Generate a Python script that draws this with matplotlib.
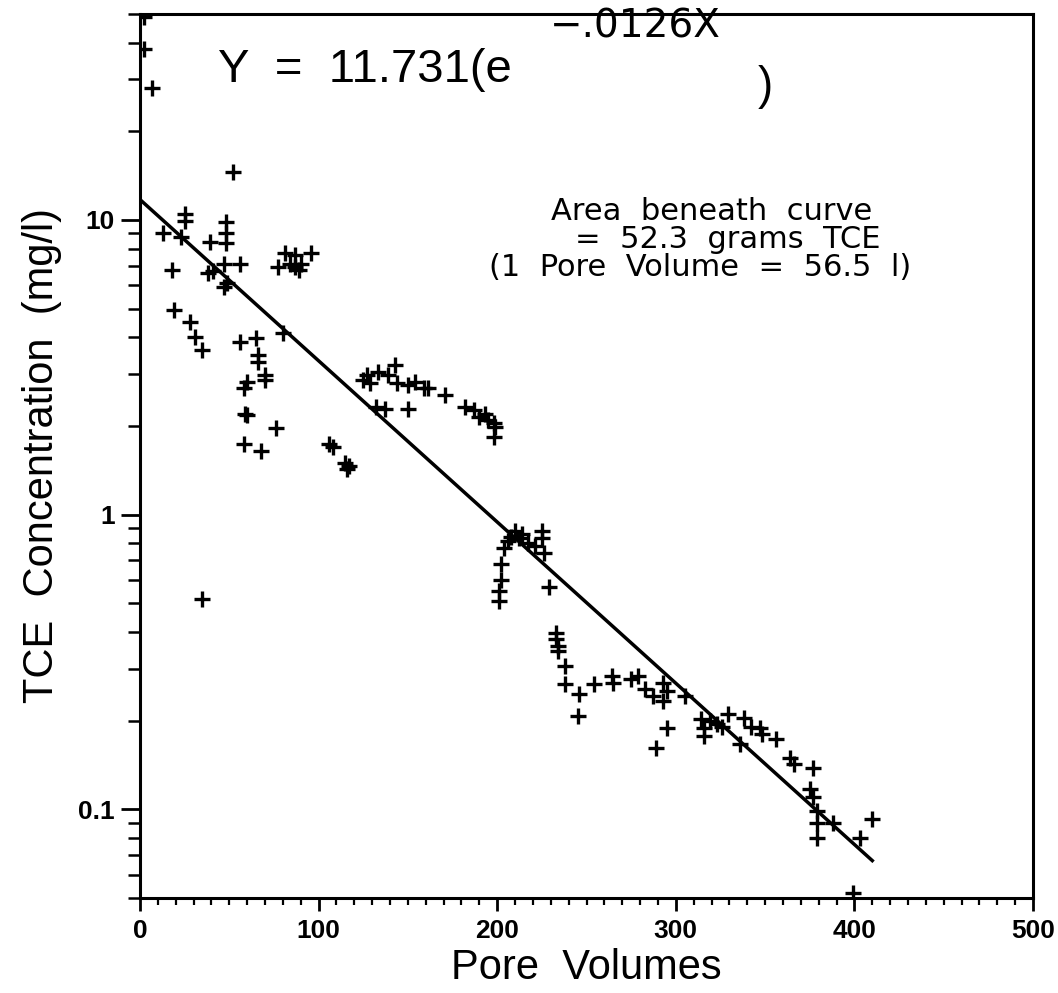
import matplotlib
matplotlib.use('Agg')
import matplotlib.pyplot as plt
import numpy as np
from matplotlib.ticker import FixedLocator, NullFormatter, FixedFormatter

# pore volumes / TCE concentration (mg/l)
pore_vol = [
    2, 2, 7, 52, 25, 25, 13, 23, 39, 48, 48, 48,
    47, 56, 18, 38, 41, 47, 49, 19, 28, 31, 35,
    77, 81, 87, 89, 90, 96, 84, 87,
    56, 65, 66, 66, 70, 70, 60, 58, 60, 59, 76, 58, 68, 80,
    106, 108, 115, 116, 117, 35,
    125, 127, 129, 133, 139, 143, 144, 150, 154, 159, 161, 171,
    182, 187, 190, 193, 195, 198, 198, 199, 132, 137, 150,
    210, 206, 214, 204, 202, 202, 201, 201, 225, 225, 226, 221,
    229, 212, 217, 208,
    233, 233, 234, 234, 238, 238, 246, 254, 245, 264, 265, 275,
    279, 283, 287, 293, 295, 293, 305, 295, 289, 314, 316, 316,
    323, 329, 338, 336, 347, 348, 356, 364, 366, 377, 375, 377,
    379, 379, 379, 388, 403, 410, 399, 319, 326, 342,
]
tce_conc = [
    48.7, 37.9, 28.1, 14.5, 10.5, 9.9, 9.0, 8.75, 8.4, 9.85, 9.0, 8.35,
    7.1, 7.1, 6.75, 6.6, 6.7, 5.9, 6.1, 4.94, 4.5, 4.0, 3.61,
    6.9, 7.7, 7.6, 6.75, 7.1, 7.7, 7.1, 6.9,
    3.84, 3.97, 3.47, 3.29, 2.97, 2.86, 2.81, 2.68, 2.17, 2.2, 1.96, 1.74, 1.64, 4.12,
    1.74, 1.69, 1.50, 1.43, 1.46, 0.518,
    2.86, 2.97, 2.8, 3.04, 2.97, 3.21, 2.79, 2.75, 2.81, 2.70, 2.68, 2.54,
    2.31, 2.26, 2.14, 2.2, 2.09, 2.04, 1.83, 1.98, 2.31, 2.29, 2.29,
    0.88, 0.815, 0.86, 0.77, 0.68, 0.60, 0.55, 0.51, 0.88, 0.835, 0.74, 0.78,
    0.57, 0.83, 0.80, 0.84,
    0.397, 0.378, 0.358, 0.345, 0.306, 0.266, 0.246, 0.266, 0.207, 0.284, 0.268, 0.277,
    0.284, 0.256, 0.242, 0.268, 0.252, 0.233, 0.242, 0.188, 0.161, 0.202, 0.188, 0.177,
    0.195, 0.210, 0.204, 0.166, 0.188, 0.18, 0.173, 0.149, 0.142, 0.138, 0.117, 0.11,
    0.0987, 0.090, 0.080, 0.090, 0.080, 0.093, 0.052, 0.20, 0.19, 0.19,
]

# regression shown on the chart: Y = 11.731 e^(-.0126X)
fit_a = 11.731
fit_k = -0.0126
fit_x = np.array([0, 410])

x_major = [0, 100, 200, 300, 400, 500]
y_major = [0.1, 1, 10]
y_major_labels = ['0.1', '1', '10']

FONT = 'Liberation Sans'
WIDE = 'DejaVu Sans'


def main():
    fig = plt.figure(figsize=(10.58, 9.93), dpi=100)
    ax = fig.add_axes([0.1323, 0.0957, 0.8441, 0.8902])

    ax.plot(pore_vol, tce_conc, linestyle='none', marker='+',
            markersize=11, markeredgewidth=2.4, color='black')
    ax.plot(fit_x, fit_a * np.exp(fit_k * fit_x), color='black', lw=2.5)

    ax.set_yscale('log')
    ax.set_xlim(0, 500)
    ax.set_ylim(0.05, 50)

    ax.xaxis.set_major_locator(FixedLocator(x_major))
    ax.xaxis.set_minor_locator(FixedLocator(np.arange(0, 501, 10)))
    ax.yaxis.set_major_locator(FixedLocator(y_major))
    ax.yaxis.set_major_formatter(FixedFormatter(y_major_labels))
    minors = [m * d for d in (0.01, 0.1, 1, 10) for m in range(2, 10)]
    ax.yaxis.set_minor_locator(FixedLocator(minors))
    ax.yaxis.set_minor_formatter(NullFormatter())

    ax.tick_params(axis='x', which='major', direction='out', length=9,
                   width=2, pad=6, labelsize=19)
    ax.tick_params(axis='x', which='minor', direction='out', length=5, width=1.6)
    ax.tick_params(axis='y', which='major', direction='out', length=14,
                   width=2, pad=4, labelsize=19)
    ax.tick_params(axis='y', which='minor', direction='out', length=9, width=1.8)
    for lab in ax.get_xticklabels() + ax.get_yticklabels():
        lab.set_fontweight('bold')
        lab.set_family(FONT)

    for s in ax.spines.values():
        s.set_linewidth(2.2)

    ax.set_xlabel('Pore  Volumes', fontsize=30, family=FONT, labelpad=4)
    ax.set_ylabel('TCE  Concentration  (mg/l)', fontsize=30, family=FONT,
                  labelpad=12)

    # equation, drawn in pieces like the original
    fig.text(218 / 1058, 1 - 70 / 993, 'Y  =  11.731(e', fontsize=34,
             family=FONT, ha='left', va='center')
    fig.text(635 / 1058, 1 - 26 / 993, '\u2212.0126X', fontsize=28,
             family=WIDE, ha='center', va='center')
    fig.text(765 / 1058, 1 - 87 / 993, ')', fontsize=33,
             family=FONT, ha='center', va='center')

    fig.text(712 / 1058, 1 - 212 / 993, 'Area  beneath  curve', fontsize=22,
             family=WIDE, ha='center', va='center')
    fig.text(728 / 1058, 1 - 240 / 993, '=  52.3  grams  TCE', fontsize=22,
             family=WIDE, ha='center', va='center')
    fig.text(700 / 1058, 1 - 268 / 993, '(1  Pore  Volume  =  56.5  l)',
             fontsize=22, family=WIDE, ha='center', va='center')

    fig.savefig('out.png', dpi=100)


if __name__ == '__main__':
    main()
